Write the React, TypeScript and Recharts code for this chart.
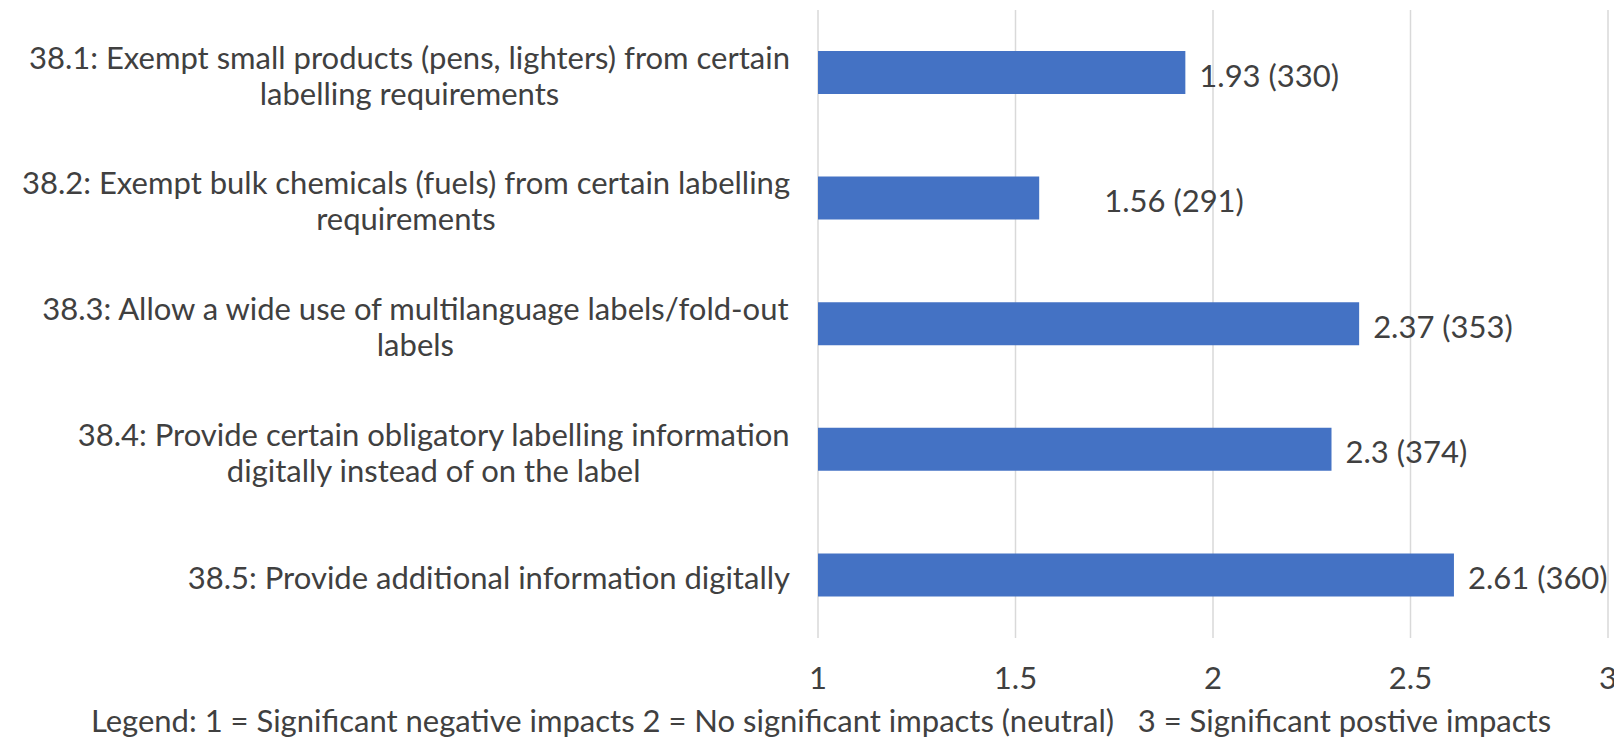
import { BarChart, Bar, XAxis, YAxis, CartesianGrid, LabelList } from "recharts";

const categories = [
  "38.1: Exempt small products (pens, lighters) from certain\nlabelling requirements",
  "38.2: Exempt bulk chemicals (fuels) from certain labelling\nrequirements",
  "38.3: Allow a wide use of multilanguage labels/fold-out\nlabels",
  "38.4: Provide certain obligatory labelling information\ndigitally instead of on the label",
  "38.5: Provide additional information digitally",
];
const meanScores = [1.93, 1.56, 2.37, 2.3, 2.61];
const responses = [330, 291, 353, 374, 360];
const xTicks = [1, 1.5, 2, 2.5, 3];
const legendNote =
  "Legend: 1 = Significant negative impacts 2 = No significant impacts (neutral)   3 = Significant postive impacts";

const data = categories.map((c, i) => ({ name: c, score: meanScores[i], n: responses[i] }));

const FONT = "Lato, 'Open Sans', sans-serif";
const FS = 31;
const TEXT = "#404040";

let ctx: CanvasRenderingContext2D | null = null;
function textWidth(s: string) {
  if (!ctx) ctx = document.createElement("canvas").getContext("2d");
  if (!ctx) return s.length * FS * 0.5;
  ctx.font = `${FS}px Lato`;
  return ctx.measureText(s).width;
}

function CategoryTick({ x, y, payload }: any) {
  const lines: string[] = String(payload.value).split("\n");
  const maxW = Math.max(...lines.map(textWidth));
  const right = x - 20;
  const cx = right - maxW / 2;
  const y0 = y + 2 - ((lines.length - 1) * 36) / 2;
  return (
    <text fontFamily={FONT} fontSize={FS} fill={TEXT} textAnchor="middle">
      {lines.map((l, i) => (
        <tspan key={i} x={cx} y={y0 + i * 36} dominantBaseline="central">{l}</tspan>
      ))}
    </text>
  );
}

function ScoreTick({ x, y, payload }: any) {
  return (
    <text x={x} y={y + 31} fontFamily={FONT} fontSize={FS} fill={TEXT} textAnchor="middle" dominantBaseline="central">
      {payload.value}
    </text>
  );
}

function ValueLabel({ x, y, width, height, index }: any) {
  // second label sits further out in the original
  const gap = index === 1 ? 65 : 14;
  return (
    <text x={x + width + gap} y={y + height / 2 + 2} fontFamily={FONT} fontSize={FS} fill={TEXT} dominantBaseline="central">
      {`${meanScores[index]} (${responses[index]})`}
    </text>
  );
}

export default function App() {
  return (
    <div style={{ position: "absolute", left: 0, top: 0, width: 1614, height: 737, background: "#fff" }}>
      <style>{"body{margin:0}"}</style>
      <BarChart width={1614} height={737} data={data} layout="vertical"
        margin={{ top: 10, right: 6, bottom: 0, left: 0 }}>
        <CartesianGrid horizontal={false} stroke="#d9d9d9" strokeWidth={1.5} />
        <XAxis type="number" domain={[1, 3]} ticks={xTicks} axisLine={false} tickLine={false}
          height={99} tick={<ScoreTick />} interval={0} />
        <YAxis type="category" dataKey="name" width={818} axisLine={false} tickLine={false}
          tick={<CategoryTick />} interval={0} />
        <Bar dataKey="score" fill="#4472C4" barSize={43} isAnimationActive={false}>
          <LabelList dataKey="score" content={<ValueLabel />} />
        </Bar>
      </BarChart>
      <div style={{
        position: "absolute", left: 0, width: 1642, top: 702, textAlign: "center",
        fontFamily: FONT, fontSize: FS, color: TEXT, whiteSpace: "pre", lineHeight: "36px",
      }}>{legendNote}</div>
    </div>
  );
}
